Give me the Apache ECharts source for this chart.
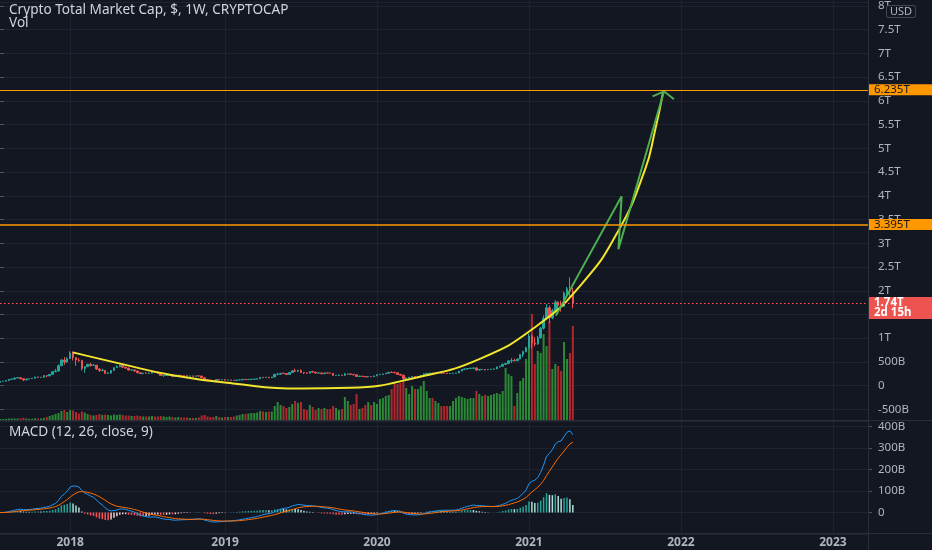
<!DOCTYPE html>
<html>
<head>
<meta charset="utf-8">
<script src="https://cdn.jsdelivr.net/npm/echarts/dist/echarts.min.js"></script>
<style>
  html, body { margin: 0; padding: 0; background: #131722; }
  #chart { width: 932px; height: 550px; }
</style>
</head>
<body>
<div id="chart"></div>
<script>
// ---------------- data (values in billions USD) ----------------
const weekStart = '2017-07-17';          // first weekly bar shown
const weekCount = 298;                   // weekly slots on the time axis (to early 2023)
const yearTickWeeks = ['2018-01-01', '2019-01-07', '2020-01-06', '2021-01-04', '2022-01-03', '2023-01-02'];
const yearLabels = ['2018', '2019', '2020', '2021', '2022', '2023'];

const firstOpen = 72;
const closeB = [
  92, 94, 108, 133, 138, 162, 168, 146, 120, 138, 148, 158, 182, 176, 178, 212, 206, 238, 295, 310,
  420, 540, 500, 570, 690, 590, 540, 530, 360, 400, 450, 425, 430, 350, 320, 322, 262, 265, 320, 380,
  400, 430, 390, 370, 330, 332, 310, 272, 255, 262, 260, 265, 292, 283, 252, 214, 216, 218, 226, 196,
  200, 220, 214, 210, 200, 204, 200, 206, 204, 166, 126, 118, 106, 102, 128, 122, 124, 118, 119, 113,
  111, 118, 122, 132, 128, 132, 136, 137, 146, 176, 172, 178, 166, 182, 240, 242, 260, 255, 236, 276,
  315, 305, 318, 278, 270, 264, 296, 285, 266, 268, 252, 268, 266, 262, 218, 219, 224, 218, 246, 248,
  238, 228, 194, 200, 194, 184, 192, 190, 206, 232, 238, 248, 262, 282, 278, 272, 238, 222, 148, 164,
  178, 194, 192, 198, 214, 248, 258, 262, 254, 268, 270, 264, 262, 254, 260, 264, 268, 308, 342, 352,
  362, 366, 372, 328, 342, 344, 338, 342, 348, 352, 392, 410, 448, 468, 522, 530, 525, 560, 655, 715,
  800, 1040, 900, 880, 1010, 1210, 1420, 1640, 1430, 1580, 1760, 1690, 1670, 1950, 2040, 1990, 1740
];
const highB = [
  100, 98, 112, 140, 150, 168, 178, 176, 150, 146, 152, 160, 188, 188, 182, 218, 222, 245, 305, 350,
  450, 560, 600, 600, 725, 720, 600, 580, 545, 410, 460, 480, 460, 440, 370, 360, 330, 285, 330, 385,
  430, 440, 440, 400, 380, 350, 340, 315, 282, 272, 282, 272, 298, 302, 288, 258, 220, 225, 240, 235,
  205, 225, 225, 220, 215, 210, 207, 210, 215, 206, 170, 136, 122, 112, 138, 142, 132, 132, 122, 120,
  116, 120, 124, 142, 135, 134, 138, 140, 148, 182, 182, 182, 180, 186, 245, 270, 270, 275, 260, 280,
  325, 360, 335, 345, 285, 275, 300, 315, 290, 276, 272, 272, 272, 272, 264, 222, 232, 226, 270, 258,
  252, 242, 230, 208, 204, 196, 196, 198, 208, 236, 248, 250, 268, 288, 300, 294, 278, 248, 228, 178,
  184, 198, 204, 204, 218, 258, 268, 268, 272, 272, 284, 274, 268, 266, 264, 268, 270, 312, 352, 362,
  372, 382, 382, 392, 348, 352, 348, 348, 352, 362, 405, 420, 468, 478, 538, 578, 570, 570, 665, 735,
  820, 1100, 1080, 1020, 1050, 1240, 1480, 1720, 1690, 1620, 1800, 1780, 1790, 1980, 2080, 2280, 2060
];
const lowB = [
  70, 86, 90, 106, 128, 136, 158, 135, 100, 118, 134, 144, 154, 168, 162, 174, 178, 198, 232, 285,
  300, 415, 440, 480, 560, 530, 420, 500, 320, 270, 395, 400, 415, 330, 290, 300, 245, 245, 255, 320,
  378, 390, 370, 360, 310, 320, 295, 262, 243, 240, 252, 248, 258, 278, 248, 210, 186, 205, 210, 190,
  185, 190, 205, 205, 190, 196, 196, 196, 200, 160, 112, 112, 102, 98, 100, 118, 118, 112, 113, 110,
  106, 108, 116, 120, 125, 125, 129, 132, 134, 144, 166, 168, 158, 164, 180, 215, 235, 245, 225, 234,
  272, 285, 285, 265, 245, 250, 260, 280, 252, 256, 242, 248, 262, 256, 208, 208, 212, 212, 204, 238,
  232, 222, 184, 188, 188, 178, 174, 186, 186, 204, 228, 232, 244, 258, 268, 262, 232, 218, 118, 138,
  158, 172, 184, 188, 194, 212, 238, 232, 244, 244, 258, 254, 256, 248, 250, 254, 258, 266, 302, 332,
  342, 352, 360, 318, 322, 336, 318, 328, 334, 342, 348, 386, 402, 438, 462, 478, 515, 520, 555, 605,
  705, 790, 780, 830, 860, 990, 1180, 1400, 1320, 1400, 1560, 1620, 1560, 1660, 1900, 1860, 1630
];
const volumeB = [
  20, 20, 22, 25, 25, 25, 25, 28, 32, 25, 22, 22, 28, 25, 25, 30, 40, 50, 60, 70,
  80, 100, 110, 90, 110, 105, 90, 75, 95, 85, 70, 60, 55, 60, 70, 60, 65, 60, 55, 65,
  60, 65, 60, 55, 55, 50, 50, 55, 50, 45, 45, 45, 50, 45, 45, 50, 45, 40, 45, 40,
  35, 40, 35, 35, 35, 30, 30, 30, 35, 55, 60, 45, 40, 40, 50, 40, 35, 40, 40, 40,
  45, 55, 60, 70, 70, 75, 80, 80, 85, 100, 95, 90, 95, 95, 150, 190, 160, 150, 130, 140,
  170, 200, 180, 190, 120, 110, 160, 140, 110, 130, 120, 130, 120, 120, 150, 130, 110, 120, 240, 200,
  160, 170, 270, 120, 130, 160, 190, 160, 190, 170, 220, 230, 250, 260, 320, 370, 370, 380, 410, 330,
  270, 350, 320, 320, 350, 400, 300, 230, 230, 200, 180, 150, 150, 150, 150, 200, 230, 250, 240, 230,
  220, 230, 230, 300, 270, 250, 260, 250, 260, 270, 280, 270, 300, 530, 470, 450, 150, 280, 400, 430,
  620, 850, 1070, 570, 700, 680, 870, 750, 1000, 520, 570, 550, 500, 790, 620, 680, 950
];

// horizontal levels drawn on the chart
const levelValues = [6235, 3395];
const levelLabels = ['6.235T', '3.395T'];
const lastPrice = 1740;
const lastPriceLabel = '1.74T';
const barCountdown = '2d 15h';

// hand-drawn shapes, [week index, value in B]
const arcPoints = [
  [24.9, 701], [41.1, 465], [59.1, 220], [79.7, 46], [102.6, -59], [119.8, -42],
  [143.0, 178], [164.6, 576], [183.4, 1246], [198.8, 2125], [211.5, 3256],
  [220.7, 4554], [224.1, 5368], [226.9, 6187]
];
const arrowPath = [[190.2, 1476], [212.7, 3989], [211.6, 2873], [227.2, 6202]];
const arrowHead = [[223.3, 6097], [227.2, 6202], [230.6, 6034]];

// ---------------- derived ----------------
const t0 = Date.parse(weekStart + 'T00:00:00Z');
const weeks = [];
for (let i = 0; i < weekCount; i++) {
  weeks.push(new Date(t0 + i * 7 * 86400000).toISOString().slice(0, 10));
}
// weekly bars open at the previous week's close
const openB = closeB.map((c, i) => (i === 0 ? firstOpen : closeB[i - 1]));
const candles = closeB.map((c, i) => [openB[i], c, lowB[i], highB[i]]);
const isUp = closeB.map((c, i) => c >= openB[i]);

// MACD (12, 26, close, 9)
function ema(arr, n) {
  const k = 2 / (n + 1);
  const out = [];
  let e = arr[0];
  arr.forEach((v, i) => { e = i === 0 ? v : v * k + e * (1 - k); out.push(e); });
  return out;
}
const ema12 = ema(closeB, 12), ema26 = ema(closeB, 26);
const macd = ema12.map((v, i) => v - ema26[i]);
const signal = ema(macd, 9);
const hist = macd.map((v, i) => v - signal[i]);
const histColors = hist.map((h, i) => {
  const p = i > 0 ? hist[i - 1] : 0;
  if (h >= 0) return p < h ? '#26A69A' : '#B2DFDB';
  return p < h ? '#FFCDD2' : '#FF5252';
});

// ---------------- chart ----------------
const FONT = 'Noto Sans';
const TEXT = '#B2B5BE';
const GRIDC = '#1F2330';
const SEP = '#2A2E39';
const isYearTick = (idx, val) => yearTickWeeks.indexOf(val) >= 0;
const fmtPrice = v => v === 0 ? '0' : (Math.abs(v) >= 1000 ? (v / 1000) + 'T' : v + 'B');
const fmtMacd = v => v === 0 ? '0' : v + 'B';

const levelLines = levelValues.map((v, i) => ({
  yAxis: v,
  lineStyle: { color: '#FF9800', width: i === 1 ? 1.5 : 1, type: 'solid' },
  label: {
    show: true, position: 'end', distance: 0, formatter: levelLabels[i],
    backgroundColor: '#FF9800', color: '#131722', fontSize: 11.5, fontFamily: FONT,
    padding: [0, 4, 0, 6], width: 54, lineHeight: 11
  }
}));
levelLines.push({
  yAxis: lastPrice,
  lineStyle: { color: '#FF5A66', width: 1.2, type: [1.5, 2.5] },
  label: {
    show: true, position: 'end', distance: 0, formatter: lastPriceLabel + '\n' + barCountdown,
    backgroundColor: '#EF5350', color: '#FFFFFF', fontSize: 11.5, fontWeight: 'bold', fontFamily: FONT,
    padding: [1, 4, 1, 6], width: 54, lineHeight: 10, offset: [0, 5]
  }
});

const titleStyle = { color: '#D1D4DC', fontSize: 13.6, fontWeight: 'normal', fontFamily: FONT };

const option = {
  backgroundColor: '#131722',
  animation: false,
  textStyle: { fontFamily: FONT },
  title: [
    { text: 'Crypto Total Market Cap, $, 1W, CRYPTOCAP', left: 9, top: 3, padding: 0, textStyle: titleStyle },
    { text: 'Vol', left: 9, top: 16, padding: 0, textStyle: titleStyle },
    { text: 'MACD (12, 26, close, 9)', left: 9, top: 425, padding: 0, textStyle: titleStyle }
  ],
  graphic: [
    { type: 'line', z: 10, silent: true, shape: { x1: 0, y1: 420.5, x2: 932, y2: 420.5 }, style: { stroke: SEP, lineWidth: 1 } },
    { type: 'line', z: 10, silent: true, shape: { x1: 0, y1: 533.5, x2: 932, y2: 533.5 }, style: { stroke: SEP, lineWidth: 1 } },
    { type: 'line', z: 10, silent: true, shape: { x1: 868.5, y1: 0, x2: 868.5, y2: 550 }, style: { stroke: SEP, lineWidth: 1 } },
    { type: 'text', z: 10, left: 886, top: 5, silent: true,
      style: { text: 'USD', fill: TEXT, font: '11px "Noto Sans"', backgroundColor: '#131722',
               borderColor: '#434651', borderWidth: 1, borderRadius: 2, padding: [0, 3] } }
  ],
  grid: [
    { left: 0, right: 64, top: 0, bottom: 140.6 },
    { left: 0, right: 64, top: 0, bottom: 129 },
    { left: 0, right: 64, top: 421, bottom: 16.05 }
  ],
  xAxis: [
    { type: 'category', gridIndex: 0, data: weeks, boundaryGap: false, show: false },
    { type: 'category', gridIndex: 1, data: weeks, boundaryGap: false,
      axisLine: { show: false }, axisTick: { show: false }, axisLabel: { show: false },
      splitLine: { show: true, interval: isYearTick, lineStyle: { color: GRIDC } } },
    { type: 'category', gridIndex: 2, data: weeks, boundaryGap: false,
      axisLine: { show: false }, axisTick: { show: false },
      axisLabel: { interval: isYearTick, formatter: v => yearLabels[yearTickWeeks.indexOf(v)],
                   color: TEXT, fontSize: 12, fontWeight: 'bold', margin: 3, fontFamily: FONT },
      splitLine: { show: true, interval: isYearTick, lineStyle: { color: GRIDC } } },
    { type: 'value', gridIndex: 0, min: 0, max: weekCount - 1, show: false }
  ],
  yAxis: [
    { type: 'value', gridIndex: 0, position: 'right', min: -500, max: 8072, interval: 500,
      axisLine: { show: false },
      axisTick: { show: true, length: 4, lineStyle: { color: '#50535E' } },
      axisLabel: { formatter: fmtPrice, color: TEXT, fontSize: 11.5, margin: 10, showMaxLabel: false, fontFamily: FONT },
      splitLine: { show: true, lineStyle: { color: GRIDC } } },
    { type: 'value', gridIndex: 1, min: 0, max: 4210, show: false },
    { type: 'value', gridIndex: 2, position: 'right', min: -100, max: 426.6, interval: 100,
      axisLine: { show: false },
      axisTick: { show: true, length: 4, lineStyle: { color: '#50535E' } },
      axisLabel: { formatter: fmtMacd, color: TEXT, fontSize: 11.5, margin: 10,
                   showMinLabel: false, showMaxLabel: false, fontFamily: FONT },
      splitLine: { show: true, lineStyle: { color: GRIDC } } }
  ],
  series: [
    { name: 'Vol', type: 'bar', xAxisIndex: 1, yAxisIndex: 1, barWidth: 2,
      data: volumeB.map((v, i) => ({ value: v, itemStyle: { color: isUp[i] ? '#2A8A36' : '#B0282E' } })) },
    { name: 'Total', type: 'candlestick', xAxisIndex: 0, yAxisIndex: 0, barWidth: 2, data: candles,
      itemStyle: { color: '#26A69A', color0: '#EF5350', borderColor: '#26A69A', borderColor0: '#EF5350', borderWidth: 1 },
      markLine: { silent: true, symbol: ['none', 'none'], animation: false, data: levelLines } },
    { name: 'arc', type: 'line', xAxisIndex: 3, yAxisIndex: 0, data: arcPoints, smooth: 0.5,
      showSymbol: false, lineStyle: { color: '#F2E52B', width: 2 }, z: 4 },
    { name: 'path', type: 'line', xAxisIndex: 3, yAxisIndex: 0, data: arrowPath,
      showSymbol: false, lineStyle: { color: '#4CAF50', width: 2 }, z: 4 },
    { name: 'head', type: 'line', xAxisIndex: 3, yAxisIndex: 0, data: arrowHead,
      showSymbol: false, lineStyle: { color: '#4CAF50', width: 2 }, z: 4 },
    { name: 'Histogram', type: 'bar', xAxisIndex: 2, yAxisIndex: 2, barWidth: 1.5,
      data: hist.map((h, i) => ({ value: h, itemStyle: { color: histColors[i] } })) },
    { name: 'MACD', type: 'line', xAxisIndex: 2, yAxisIndex: 2, data: macd, showSymbol: false,
      lineStyle: { color: '#2196F3', width: 1 } },
    { name: 'Signal', type: 'line', xAxisIndex: 2, yAxisIndex: 2, data: signal, showSymbol: false,
      lineStyle: { color: '#FF6D00', width: 1 } }
  ]
};

const chart = echarts.init(document.getElementById('chart'));
chart.setOption(option);
</script>
</body>
</html>
